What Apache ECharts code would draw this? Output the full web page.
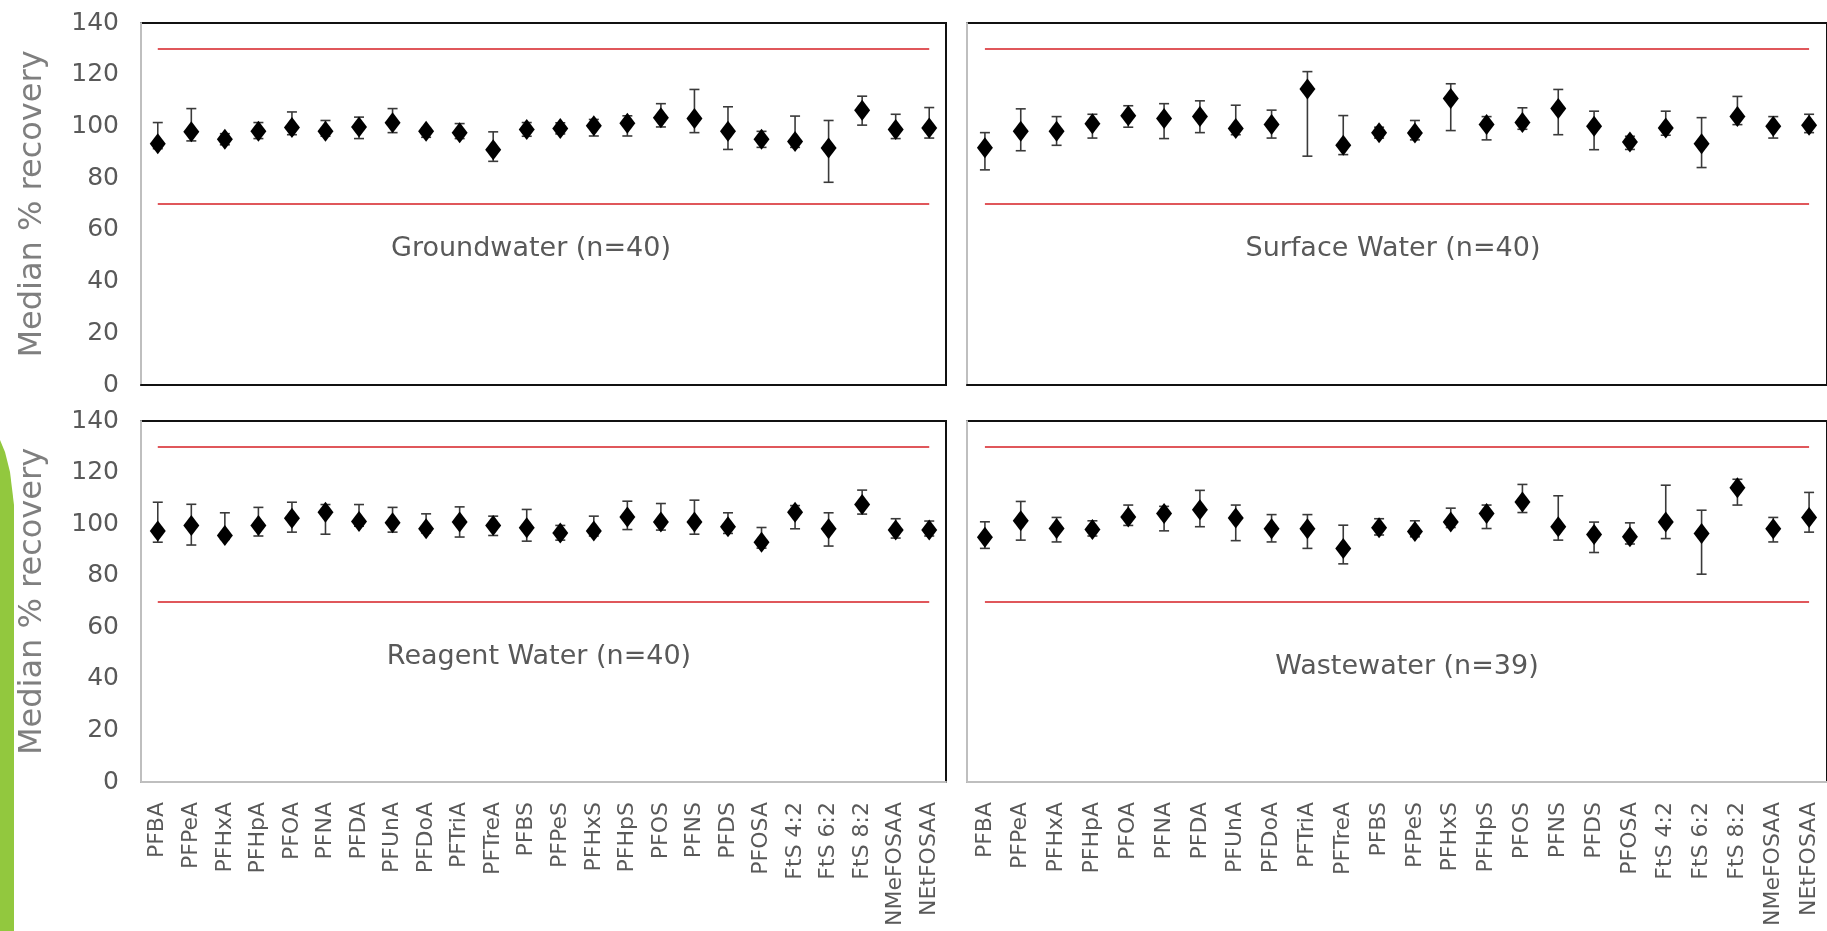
<!DOCTYPE html>
<html>
<head>
<meta charset="utf-8">
<title>Median % recovery</title>
<script src="https://cdn.jsdelivr.net/npm/echarts@6/dist/echarts.min.js"></script>
<style>
  html, body { margin: 0; padding: 0; background: #fff; }
  #chart { width: 1827px; height: 931px; }
</style>
</head>
<body>
<div id="chart"></div>
<script>
// analytes along the x axis
const categories = ['PFBA', 'PFPeA', 'PFHxA', 'PFHpA', 'PFOA', 'PFNA', 'PFDA', 'PFUnA', 'PFDoA', 'PFTriA',
  'PFTreA', 'PFBS', 'PFPeS', 'PFHxS', 'PFHpS', 'PFOS', 'PFNS', 'PFDS', 'PFOSA', 'FtS 4:2', 'FtS 6:2',
  'FtS 8:2', 'NMeFOSAA', 'NEtFOSAA'];
const yTicks = { min: 0, max: 140, interval: 20 };
const limits = [70, 130];

// Groundwater
const gwMedian = [93.3, 97.9, 95.0, 98.1, 99.6, 98.1, 99.8, 101.4, 98.1, 97.6, 91.0, 98.8, 99.2, 100.3, 101.2, 103.4, 103.1, 98.1, 95.0, 94.2, 91.7, 106.3, 98.8, 99.4];
const gwLow = [91.4, 94.4, 92.9, 95.3, 96.8, 96.2, 95.3, 97.6, 95.8, 95.3, 86.5, 96.2, 97.1, 96.3, 96.3, 99.8, 97.6, 91.1, 91.9, 91.9, 78.4, 100.5, 95.3, 95.5];
const gwHigh = [101.5, 106.9, 97.2, 101.5, 105.6, 102.3, 103.6, 106.9, 99.4, 101.1, 97.9, 101.5, 101.4, 102.7, 104.1, 108.8, 114.3, 107.6, 98.1, 104.0, 102.3, 111.7, 104.7, 107.3];

// Surface Water
const swMedian = [91.8, 98.1, 98.1, 101.0, 104.1, 103.1, 103.8, 99.2, 100.7, 114.5, 92.7, 97.6, 97.5, 110.8, 100.7, 101.5, 106.9, 100.1, 94.0, 99.4, 93.3, 103.8, 100.1, 100.5];
const swLow = [83.2, 90.6, 92.7, 95.5, 99.7, 95.3, 97.6, 96.8, 95.5, 88.5, 89.1, 95.5, 94.8, 98.4, 94.8, 98.9, 96.8, 91.0, 91.1, 96.6, 84.1, 100.7, 95.5, 97.6];
const swHigh = [97.6, 106.8, 103.8, 104.7, 108.0, 108.8, 109.9, 108.2, 106.3, 121.2, 104.2, 99.7, 102.3, 116.5, 103.8, 107.2, 114.3, 105.9, 96.2, 105.9, 103.4, 111.6, 103.8, 104.7];

// Reagent Water
const rwMedian = [97.3, 99.5, 95.6, 99.5, 102.3, 104.6, 101.0, 100.5, 98.2, 100.8, 99.5, 98.6, 96.6, 97.3, 102.8, 100.8, 100.8, 99.0, 93.0, 104.6, 98.2, 107.6, 97.7, 97.7];
const rwLow = [93.0, 91.9, 94.1, 95.4, 96.9, 96.1, 99.2, 96.9, 96.6, 95.0, 95.6, 93.4, 93.8, 95.4, 97.9, 97.7, 96.1, 96.4, 90.7, 98.2, 91.5, 103.9, 94.6, 95.4];
const rwHigh = [108.5, 107.7, 104.4, 106.5, 108.5, 107.6, 107.6, 106.5, 104.0, 106.7, 103.1, 105.7, 99.5, 103.1, 108.9, 108.0, 109.3, 104.4, 98.7, 107.2, 104.4, 113.2, 102.1, 101.2];

// Wastewater
const wwMedian = [94.9, 101.3, 98.3, 97.9, 102.8, 104.1, 105.6, 102.4, 98.2, 98.2, 90.6, 98.6, 97.1, 100.8, 104.1, 108.6, 99.0, 96.0, 95.1, 100.8, 96.4, 114.1, 98.2, 102.6];
const wwLow = [90.6, 93.8, 93.1, 95.4, 99.5, 97.4, 99.0, 93.6, 93.1, 90.6, 84.6, 95.8, 95.1, 98.7, 98.3, 104.5, 93.8, 89.0, 92.3, 94.4, 80.6, 107.4, 93.1, 96.9];
const wwHigh = [100.9, 108.8, 102.6, 101.3, 107.4, 106.9, 113.1, 107.4, 103.7, 103.7, 99.6, 102.1, 101.3, 106.2, 107.4, 115.4, 111.0, 100.8, 100.5, 115.1, 105.4, 117.4, 102.6, 112.3];

const panels = [
  { name: 'Groundwater (n=40)', median: gwMedian, low: gwLow, high: gwHigh },
  { name: 'Surface Water (n=40)', median: swMedian, low: swLow, high: swHigh },
  { name: 'Reagent Water (n=40)', median: rwMedian, low: rwLow, high: rwHigh },
  { name: 'Wastewater (n=39)', median: wwMedian, low: wwLow, high: wwHigh }
];

// panel boxes and caption spots (pixels)
const boxes = [
  { left: 141, top: 23, width: 805, height: 362, labelX: 531, labelY: 249 },
  { left: 967, top: 23, width: 869, height: 362, labelX: 1393, labelY: 249 },
  { left: 141, top: 421, width: 805, height: 361, labelX: 539, labelY: 657 },
  { left: 967, top: 421, width: 869, height: 361, labelX: 1407, labelY: 667 }
];

const font = 'DejaVu Sans, Verdana, sans-serif';
const gray = '#595959';

function errorBarItem(params, api) {
  const x = api.value(0);
  const lo = api.coord([x, api.value(1)]);
  const hi = api.coord([x, api.value(2)]);
  const cap = 5;
  const style = { stroke: '#3a3a3a', lineWidth: 1.6, fill: null };
  return {
    type: 'group',
    children: [
      { type: 'line', shape: { x1: hi[0], y1: hi[1], x2: lo[0], y2: lo[1] }, style: style },
      { type: 'line', shape: { x1: hi[0] - cap, y1: hi[1], x2: hi[0] + cap, y2: hi[1] }, style: style },
      { type: 'line', shape: { x1: lo[0] - cap, y1: lo[1], x2: lo[0] + cap, y2: lo[1] }, style: style }
    ]
  };
}

const grid = [], xAxis = [], yAxis = [], series = [], graphic = [];

panels.forEach(function (p, i) {
  const b = boxes[i];
  const isBottom = i >= 2;
  const isLeft = i % 2 === 0;
  grid.push({ left: b.left, top: b.top, width: b.width, height: b.height, show: true,
    borderColor: '#111', borderWidth: 2, backgroundColor: '#fff', z: 0 });
  xAxis.push({
    type: 'category', gridIndex: i, data: categories, boundaryGap: true, z: 2,
    axisLine: { show: true, lineStyle: { color: isBottom ? '#bfbfbf' : '#111', width: 2 } },
    axisTick: { show: false },
    axisLabel: { show: isBottom, rotate: 90, interval: 0, margin: 20, fontSize: 22, color: gray, fontFamily: font },
    splitLine: { show: false }
  });
  yAxis.push({
    type: 'value', gridIndex: i, min: yTicks.min, max: yTicks.max, interval: yTicks.interval, z: 2,
    name: isLeft ? 'Median % recovery' : '', nameLocation: 'middle', nameRotate: 90, nameGap: 92,
    nameTextStyle: { fontSize: 32, color: '#7f7f7f', fontFamily: font },
    axisLine: { show: true, lineStyle: { color: '#bfbfbf', width: 2 } },
    axisTick: { show: false },
    axisLabel: { show: isLeft, margin: 22, fontSize: 25, color: gray, fontFamily: font },
    splitLine: { show: false }
  });
  series.push({
    type: 'custom', xAxisIndex: i, yAxisIndex: i, renderItem: errorBarItem, z: 3,
    encode: { x: 0, y: [1, 2] },
    data: categories.map(function (c, k) { return [k, p.low[k], p.high[k]]; })
  });
  series.push({
    type: 'scatter', xAxisIndex: i, yAxisIndex: i, data: p.median, z: 4,
    symbol: 'diamond', symbolSize: [16, 21], itemStyle: { color: '#000', opacity: 1 },
    markLine: {
      silent: true, symbol: 'none', label: { show: false },
      lineStyle: { color: '#e0575b', width: 2, type: 'solid' },
      data: limits.map(function (v) {
        return [{ xAxis: categories[0], yAxis: v }, { xAxis: categories[categories.length - 1], yAxis: v }];
      })
    }
  });
  graphic.push({
    type: 'text', x: b.labelX, y: b.labelY, z: 10,
    style: { text: p.name, fill: gray, font: '27px ' + font, textAlign: 'center', textVerticalAlign: 'middle' }
  });
});

// green slide accent on the left edge
graphic.push({
  type: 'polygon', z: 1,
  shape: { points: [[0, 440], [5, 452], [10, 472], [14, 505], [14, 931], [0, 931]] },
  style: { fill: '#92c83e' }
});

const chart = echarts.init(document.getElementById('chart'));
chart.setOption({
  backgroundColor: '#fff',
  animation: false,
  grid: grid,
  xAxis: xAxis,
  yAxis: yAxis,
  series: series,
  graphic: graphic
});
</script>
</body>
</html>
